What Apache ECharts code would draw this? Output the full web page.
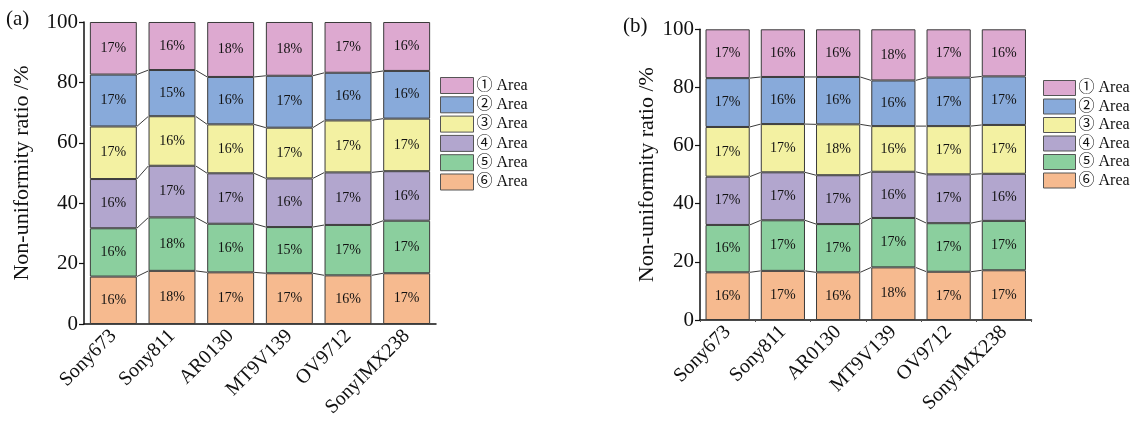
<!DOCTYPE html>
<html>
<head>
<meta charset="utf-8">
<script src="https://cdn.jsdelivr.net/npm/echarts@6/dist/echarts.min.js"></script>
<style>html,body{margin:0;padding:0;background:#fff}#c{width:1133px;height:423px}</style>
</head>
<body>
<div id="c"></div>
<script>
var categories = ['Sony673', 'Sony811', 'AR0130', 'MT9V139', 'OV9712', 'SonyIMX238'];
var seriesNames = ['① Area', '② Area', '③ Area', '④ Area', '⑤ Area', '⑥ Area'];
var yTicks = [0, 20, 40, 60, 80, 100];
// Panel (a), per area (percent)
var a_area1 = [17.4, 15.9, 18.2, 17.8, 16.8, 16.2];
var a_area2 = [17.2, 15.3, 15.7, 17.2, 15.8, 15.8];
var a_area3 = [17.4, 16.4, 16.2, 16.8, 17.2, 17.4];
var a_area4 = [16.3, 17.1, 16.7, 16.1, 17.4, 16.4];
var a_area5 = [16.0, 17.7, 16.1, 15.3, 16.7, 17.4];
var a_area6 = [15.7, 17.6, 17.1, 16.8, 16.1, 16.8];
// Panel (b)
var b_area1 = [16.8, 16.4, 16.4, 17.6, 16.6, 16.2];
var b_area2 = [16.8, 16.2, 16.3, 15.7, 16.7, 16.7];
var b_area3 = [17.1, 16.6, 17.5, 15.7, 16.6, 16.8];
var b_area4 = [16.6, 16.5, 16.8, 15.9, 16.8, 16.2];
var b_area5 = [16.3, 17.4, 16.6, 17.0, 16.7, 17.0];
var b_area6 = [16.4, 16.9, 16.4, 18.1, 16.6, 17.1];

var colors = ['#DDA9D0', '#88AADA', '#F3F1A2', '#B2A6CE', '#8BCF9E', '#F6BA8F'];
var FONT = 'Liberation Serif, DejaVu Serif, Noto Sans CJK SC, serif';

var chart = echarts.init(document.getElementById('c'), null, {renderer: 'canvas'});

function buildPanel(idx, areas) {
  // areas: [area1..area6]; stack bottom = area6
  var out = [];
  for (var k = 5; k >= 0; k--) {
    out.push({
      type: 'bar', name: seriesNames[k], stack: 'p' + idx,
      xAxisIndex: idx, yAxisIndex: idx,
      data: areas[k], barWidth: '80%',
      itemStyle: {color: colors[k], borderColor: '#3a3a3a', borderWidth: 1},
      label: {show: true, position: 'inside', color: '#111', fontFamily: FONT, fontSize: 14,
        formatter: function (p) { return Math.round(p.value) + '%'; }},
      emphasis: {disabled: true}, animation: false
    });
  }
  // connectors between cumulative tops (boundaries above area6..area2)
  var conn = [];
  var cum = categories.map(function () { return 0; });
  for (var k2 = 5; k2 >= 1; k2--) {
    for (var i = 0; i < categories.length; i++) cum[i] += areas[k2][i];
    for (var j = 0; j < categories.length - 1; j++) conn.push([j, cum[j], cum[j + 1]]);
  }
  out.push({
    type: 'custom', xAxisIndex: idx, yAxisIndex: idx, data: conn, silent: true, animation: false,
    encode: {x: 0, y: [1, 2]}, z: 3,
    renderItem: function (params, api) {
      var i = api.value(0);
      var p1 = api.coord([i, api.value(1)]);
      var p2 = api.coord([i + 1, api.value(2)]);
      var half = api.size([1, 0])[0] * 0.4;
      return {type: 'line', shape: {x1: p1[0] + half, y1: p1[1], x2: p2[0] - half, y2: p2[1]},
        style: {stroke: '#3a3a3a', lineWidth: 1}};
    }
  });
  return out;
}

function yAxis(idx, gap) {
  return {
    type: 'value', gridIndex: idx, min: yTicks[0], max: yTicks[yTicks.length - 1], interval: 20,
    name: 'Non-uniformity ratio /%', nameLocation: 'middle', nameGap: gap,
    nameTextStyle: {fontFamily: FONT, fontSize: 22, color: '#111'},
    axisLine: {show: true, lineStyle: {color: '#111', width: 1.5}},
    axisTick: {show: true, length: 5, lineStyle: {color: '#111', width: 1.2}},
    axisLabel: {fontFamily: FONT, fontSize: 21, color: '#111', margin: 6},
    splitLine: {show: false}
  };
}
function xAxis(idx) {
  return {
    type: 'category', gridIndex: idx, data: categories,
    axisLine: {show: true, lineStyle: {color: '#111', width: 1.5}},
    axisTick: {show: idx === 1, length: 2, lineStyle: {color: '#555'}},
    axisLabel: {rotate: 45, fontFamily: FONT, fontSize: 20, color: '#111', margin: 9, interval: 0},
    splitLine: {show: false}
  };
}
function legend(idx, left, top, w, h, gap) {
  return {
    orient: 'vertical', left: left, top: top, itemWidth: w, itemHeight: h, itemGap: gap,
    data: seriesNames.map(function (n) { return {name: n, icon: 'rect'}; }),
    itemStyle: {borderColor: '#555', borderWidth: 1},
    textStyle: {fontFamily: FONT, fontSize: 16, color: '#111', padding: [0, 0, 0, -2]},
    selectedMode: false, padding: 0
  };
}

var option = {
  backgroundColor: '#fff',
  animation: false,
  title: [
    {text: '(a)', left: 6, top: 9, textStyle: {fontFamily: FONT, fontSize: 21, fontWeight: 'normal', color: '#111'}, padding: 0},
    {text: '(b)', left: 623, top: 16, textStyle: {fontFamily: FONT, fontSize: 21, fontWeight: 'normal', color: '#111'}, padding: 0}
  ],
  grid: [
    {left: 84, top: 22, width: 352, height: 302},
    {left: 700, top: 29.3, width: 331.5, height: 290.7}
  ],
  xAxis: [xAxis(0), xAxis(1)],
  yAxis: [yAxis(0, 51), yAxis(1, 42)],
  legend: [legend(0, 440, 77, 33, 16, 2.3), legend(1, 1043, 80, 32, 15, 2.5)],
  series: buildPanel(0, [a_area1, a_area2, a_area3, a_area4, a_area5, a_area6])
    .concat(buildPanel(1, [b_area1, b_area2, b_area3, b_area4, b_area5, b_area6]))
};
chart.setOption(option);
</script>
</body>
</html>
